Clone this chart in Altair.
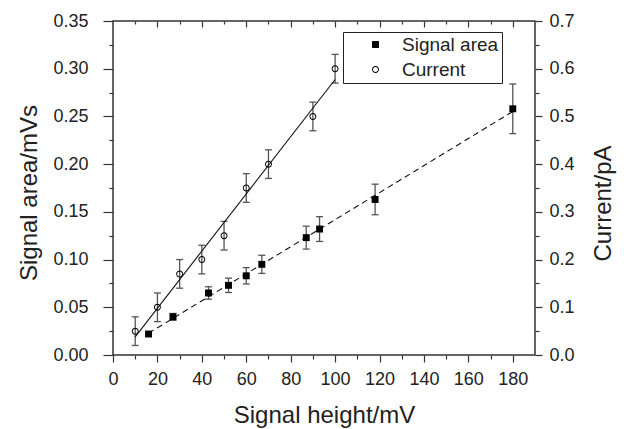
import altair as alt
import pandas as pd

# ---------------- data ----------------
signal_height = [16, 27, 43, 52, 60, 67, 87, 93, 118, 180]
signal_area = [0.022, 0.040, 0.065, 0.073, 0.083, 0.095, 0.123, 0.132, 0.163, 0.258]
signal_err = [0.002, 0.0035, 0.0065, 0.0075, 0.0085, 0.0095, 0.012, 0.013, 0.016, 0.026]

current_height = [10, 20, 30, 40, 50, 60, 70, 90, 100]
current_pa = [0.05, 0.10, 0.17, 0.20, 0.25, 0.35, 0.40, 0.50, 0.60]
current_err = [0.03, 0.03, 0.03, 0.03, 0.03, 0.03, 0.03, 0.03, 0.03]

series_names = ["Signal area", "Current"]

x_major = [0, 20, 40, 60, 80, 100, 120, 140, 160, 180]
x_minor = [10, 30, 50, 70, 90, 110, 130, 150, 170]
left_major = [0.0, 0.05, 0.10, 0.15, 0.20, 0.25, 0.30, 0.35]
left_minor = [0.025, 0.075, 0.125, 0.175, 0.225, 0.275, 0.325]
right_major = [0.0, 0.1, 0.2, 0.3, 0.4, 0.5, 0.6, 0.7]
right_minor = [0.05, 0.15, 0.25, 0.35, 0.45, 0.55, 0.65]

x_title = "Signal height/mV"
left_title = "Signal area/mVs"
right_title = "Current/pA"

sig = pd.DataFrame({
    "x": signal_height, "y": signal_area,
    "lo": [v - e for v, e in zip(signal_area, signal_err)],
    "hi": [v + e for v, e in zip(signal_area, signal_err)],
    "series": series_names[0],
})
cur = pd.DataFrame({
    "x": current_height, "y": current_pa,
    "lo": [v - e for v, e in zip(current_pa, current_err)],
    "hi": [v + e for v, e in zip(current_pa, current_err)],
    "series": series_names[1],
})

FONT = "Liberation Sans"
TXT = "#222222"
TICK = "#333333"
ERR = "#555555"

# filled square and open circle (ring) symbol shapes
SQUARE = "M-1,-1H1V1H-1Z"
RING = ("M1,0A1,1,0,1,1,-1,0A1,1,0,1,1,1,0Z"
        "M0.72,0A0.72,0.72,0,1,0,-0.72,0A0.72,0.72,0,1,0,0.72,0Z")

xs = alt.Scale(domain=[0, 190], nice=False, zero=False)
yl = alt.Scale(domain=[0, 0.35], nice=False, zero=False)
yr = alt.Scale(domain=[0, 0.7], nice=False, zero=False)


def axis(orient, values, size, labels=False, offset=0, **kw):
    base = dict(orient=orient, values=values, tickSize=size, labels=labels,
                domain=False, grid=False, tickColor=TICK, tickWidth=1.2,
                offset=offset, labelFont=FONT, labelFontSize=18, labelColor=TXT,
                labelOverlap=False, labelFlush=False, titleFont=FONT,
                titleFontSize=24, titleFontWeight="normal", titleColor=TXT)
    if "title" not in kw:
        base["title"] = None
    base.update(kw)
    return alt.Axis(**base)


legend = alt.Legend(orient="none", legendX=230, legendY=11, title=None,
                    labelFont=FONT, labelFontSize=19, labelColor=TXT,
                    symbolSize=48, strokeColor="#222222", fillColor="white",
                    padding=3, symbolOffset=20, labelOffset=17, rowPadding=5)
shape_scale = alt.Scale(domain=series_names, range=[SQUARE, RING])


def group(df, yscale, ax_major, ax_minor, dash, extent, x_axes):
    base = alt.Chart(df)
    rules = base.mark_rule(color=ERR, strokeWidth=1.3).encode(
        x=alt.X("x:Q", scale=xs, axis=x_axes[0]),
        y=alt.Y("lo:Q", scale=yscale, axis=ax_major),
        y2="hi:Q",
    )
    cap_lo = base.mark_tick(orient="horizontal", size=7, thickness=1.3, color=ERR, opacity=1).encode(
        x=alt.X("x:Q", scale=xs, axis=x_axes[1]),
        y=alt.Y("lo:Q", scale=yscale, axis=ax_minor),
    )
    cap_hi = base.mark_tick(orient="horizontal", size=7, thickness=1.3, color=ERR, opacity=1).encode(
        x=alt.X("x:Q", scale=xs, axis=x_axes[2]),
        y=alt.Y("hi:Q", scale=yscale, axis=None),
    )
    line_kw = dict(color="#111111", strokeWidth=1.1)
    if dash:
        line_kw["strokeDash"] = dash
    fit = base.transform_regression("x", "y", extent=extent).mark_line(**line_kw).encode(
        x=alt.X("x:Q", scale=xs, axis=x_axes[3]),
        y=alt.Y("y:Q", scale=yscale, axis=None),
    )
    pts = base.mark_point(filled=True, color="black", size=48, opacity=1).encode(
        x=alt.X("x:Q", scale=xs, axis=None),
        y=alt.Y("y:Q", scale=yscale, axis=None),
        shape=alt.Shape("series:N", scale=shape_scale, legend=legend),
    )
    return alt.layer(rules, cap_lo, cap_hi, fit, pts).resolve_axis(x="independent", y="independent")


left_axes = (
    axis("left", left_major, 10, labels=True, format=".2f", labelPadding=15,
         title=left_title, titleAngle=-90, titleBaseline="alphabetic",
         titleAlign="center", titleX=-77, titleY=171.5),
    axis("left", left_minor, 4),
)
right_axes = (
    axis("right", right_major, 7, labels=True, format=".1f", labelPadding=7,
         title=right_title, titleAngle=-90, titleBaseline="alphabetic",
         titleAlign="center", titleX=75.5, titleY=182),
    axis("right", right_minor, 4),
)
x_axes_left = [
    axis("bottom", x_major, 7, labels=True, format="d", labelPadding=8,
         title=x_title, titleBaseline="alphabetic", titleAlign="center", titleY=67),
    axis("bottom", x_minor, 4),
    axis("top", x_major[1:], 6, offset=-6),
    axis("top", x_minor, 3, offset=-3),
]
x_axes_right = [None, None, None, None]

left_group = group(sig, yl, left_axes[0], left_axes[1], [6, 4], [16, 180], x_axes_left)
right_group = group(cur, yr, right_axes[0], right_axes[1], None, [10, 100], x_axes_right)

chart = (
    alt.layer(left_group, right_group)
    .resolve_scale(y="independent")
    .resolve_axis(x="independent", y="independent")
    .properties(width=422, height=334, autosize="none",
                padding={"left": 113, "top": 21, "right": 89, "bottom": 74},
                background="white")
    .configure_view(stroke="#333333", strokeWidth=1.5)
)

chart.save("out.html", embed_options={"renderer": "svg", "actions": False})
